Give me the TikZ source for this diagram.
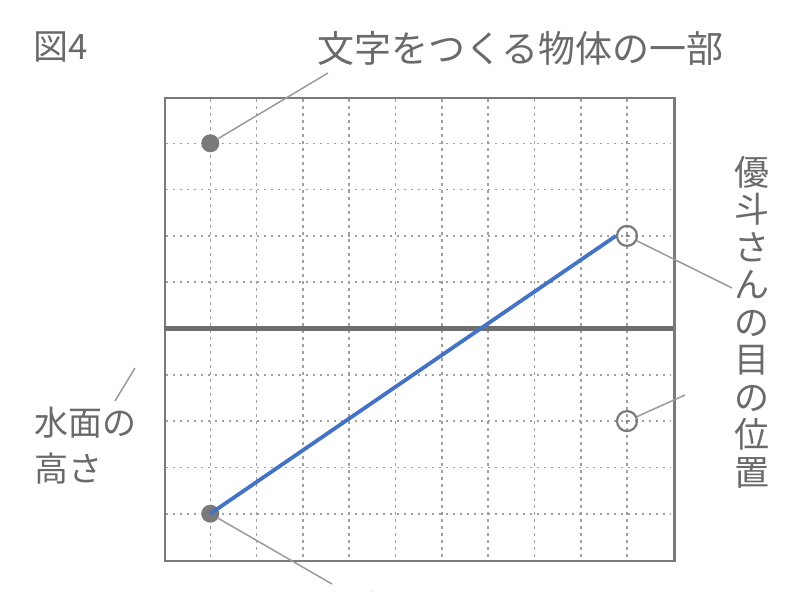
\documentclass[tikz,border=0pt]{standalone}
\usepackage{fontspec}
\newfontfamily\cjk{Noto Sans CJK JP}
\definecolor{framegray}{HTML}{7A7A7A}
\definecolor{gridgray}{HTML}{A0A0A0}
\definecolor{leadgray}{HTML}{9A9A9A}
\definecolor{textgray}{HTML}{6A6A6A}
\definecolor{rayblue}{HTML}{4472C4}
\tikzset{
  framebox/.style={draw=framegray, line width=2.4pt},
  waterline/.style={draw=framegray!90!black, line width=5.5pt},
  hgrid/.style={draw=gridgray, line width=1.6pt, dash pattern=on 2pt off 5pt},
  vgrid/.style={draw=gridgray, line width=1.6pt, dash pattern=on 2.5pt off 4.5pt},
  fdot/.style={circle, fill=framegray, minimum size=18pt, inner sep=0pt},
  odot/.style={circle, draw=framegray, line width=2.2pt, minimum size=20pt, inner sep=0pt},
  leader/.style={draw=leadgray, line width=1.5pt},
  ray/.style={draw=rayblue, line width=3.8pt},
  lbl/.style={text=textgray, inner sep=0pt, font=\cjk\fontsize{37}{37}\selectfont}
}
\begin{document}
\begin{tikzpicture}[x=1pt,y=-1pt]
\useasboundingbox (0,0) rectangle (804,592);
\def\u{46.3}
% grid
\foreach \j in {1,2,3,4,6,7,8,9}{
  \draw[hgrid] (166,{97+\u*\j}) -- (671,{97+\u*\j});
}
\foreach \i in {1,...,10}{
  \draw[vgrid] ({164+\u*\i},99) -- ({164+\u*\i},558);
}
% frame and water
\node[framebox, rectangle, minimum width=509.3pt, minimum height=463pt, anchor=north west, inner sep=0pt] (frame) at (164,97) {};
\draw[waterline] (164,{97+5*\u}) -- (673.3,{97+5*\u});
% points
\node[fdot] (obj) at ({164+\u},{97+\u}) {};
\node[fdot] (img) at ({164+\u},{97+9*\u}) {};
\node[odot] (eye) at ({164+10*\u},{97+3*\u}) {};
\node[odot] (eyeimg) at ({164+10*\u},{97+7*\u}) {};
\fill[framegray] (eye.center) circle (1.5pt);
\fill[framegray] (eyeimg.center) circle (1.5pt);
% ray
\draw[ray] (img.center) -- (eye.west);
% leaders
\coordinate (ltop) at (328,73);
\coordinate (lright) at (732,288);
\coordinate (lright2) at (685,395);
\coordinate (lbot) at (332,584);
\coordinate (lleftA) at (115,401);
\coordinate (lleftB) at (135,368);
\draw[leader] (obj) -- (ltop);
\draw[leader] (eye) -- (lright);
\draw[leader] (eyeimg) -- (lright2);
\draw[leader] (img) -- (lbot);
\draw[leader] (lleftA) -- (lleftB);
% labels
\node[anchor=west, text=textgray, inner sep=0pt, font=\cjk\fontsize{35}{35}\selectfont] (fig) at (33,47) {図4};
\node[lbl, anchor=west] (objlbl) at (317,48) {文字をつくる物体の一部};
\node[lbl, anchor=north, align=center, font=\cjk\fontsize{35}{37.5}\selectfont] (eyelbl) at (752,156) {優\\斗\\さ\\ん\\の\\目\\の\\位\\置};
\begin{scope}
\clip (0,300) rectangle (136,500);
\node[lbl, anchor=west, align=left, font=\cjk\fontsize{34}{46}\selectfont] (waterlbl) at (34,446) {水面の\\高さ};
\end{scope}
\node[lbl, anchor=west, text=textgray!70] (imglbl) at (317,609) {文字をつくる物体の一部};
\end{tikzpicture}
\end{document}
